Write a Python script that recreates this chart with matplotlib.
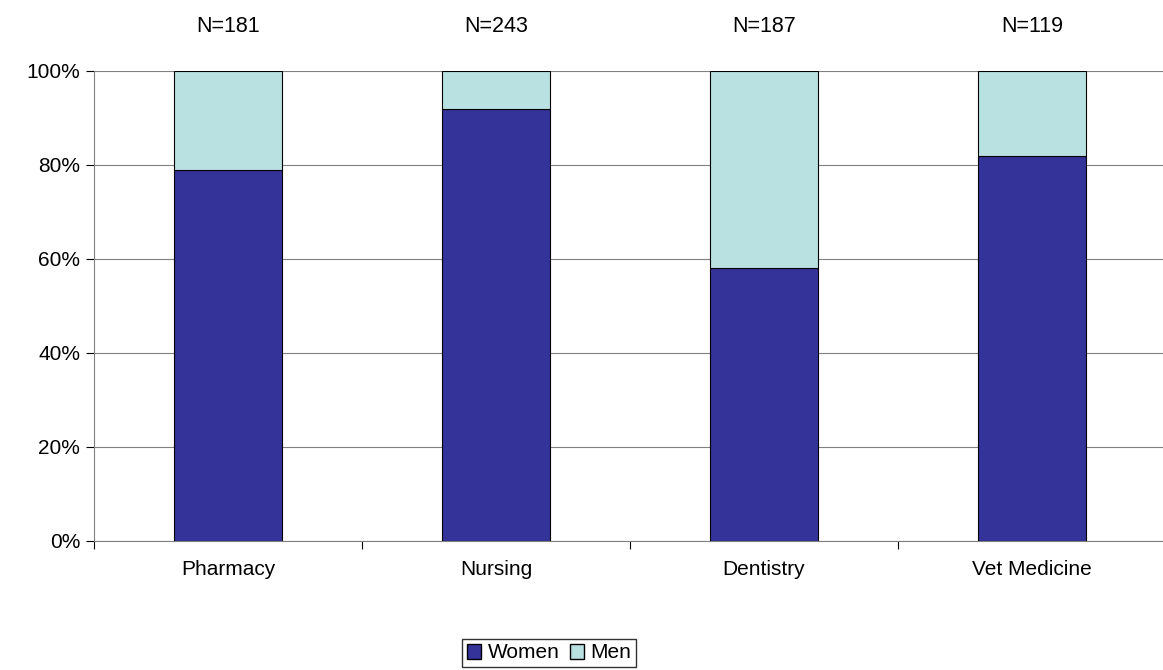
import matplotlib
matplotlib.use("Agg")
import matplotlib.pyplot as plt
from matplotlib.patches import Patch

categories = ["Pharmacy", "Nursing", "Dentistry", "Vet Medicine"]
women = [79, 92, 58, 82]
men = [21, 8, 42, 18]
n_labels = ["N=181", "N=243", "N=187", "N=119"]

plt.rcParams['font.family'] = ['Liberation Sans', 'DejaVu Sans']
fig = plt.figure(figsize=(11.63, 6.70), dpi=100)
ax = fig.add_axes([94/1163, 1-541/670, 1072/1163, 470/670])
x = range(len(categories))
cw, cm = "#333399", "#B9E1E1"
ax.bar(x, women, width=0.4, color=cw, edgecolor="black", linewidth=0.8, zorder=3)
ax.bar(x, men, width=0.4, bottom=women, color=cm, edgecolor="black", linewidth=0.8, zorder=3)
ax.set_xlim(-0.5, 3.5)
ax.set_ylim(0, 100)
ax.set_yticks(range(0, 101, 20))
ax.set_yticklabels([f"{v}%" for v in range(0, 101, 20)], fontsize=15)
ax.set_xticks([i - 0.5 for i in range(5)])
ax.set_xticklabels([])
ax.set_xticks(list(x), minor=True)
ax.set_xticklabels(categories, minor=True, fontsize=15)
ax.tick_params(axis='x', which='minor', length=0, pad=14)
ax.tick_params(axis='x', which='major', length=6, direction='out')
ax.tick_params(axis='y', length=6, direction='out', pad=4)
ax.yaxis.grid(True, color="#808080", linewidth=0.8, zorder=0)
for s in ["top", "right"]:
    ax.spines[s].set_visible(False)
ax.spines["left"].set_color("#808080")
ax.spines["bottom"].set_color("#808080")
for i, t in enumerate(n_labels):
    ax.annotate(t, (i, 100), xytext=(0, 32), textcoords="offset points", ha="center", va="center", fontsize=15.5, annotation_clip=False)
fig.legend(handles=[Patch(facecolor=cw, edgecolor="black", label="Women"),
                    Patch(facecolor=cm, edgecolor="black", label="Men")],
           loc="center", bbox_to_anchor=(549/1163, 1-653/670), ncol=2, fontsize=15,
           frameon=True, fancybox=False, edgecolor="black", handlelength=0.7, handleheight=0.7,
           handletextpad=0.3, columnspacing=0.5, borderpad=0.2, borderaxespad=0)
fig.savefig("out.png", dpi=100)
